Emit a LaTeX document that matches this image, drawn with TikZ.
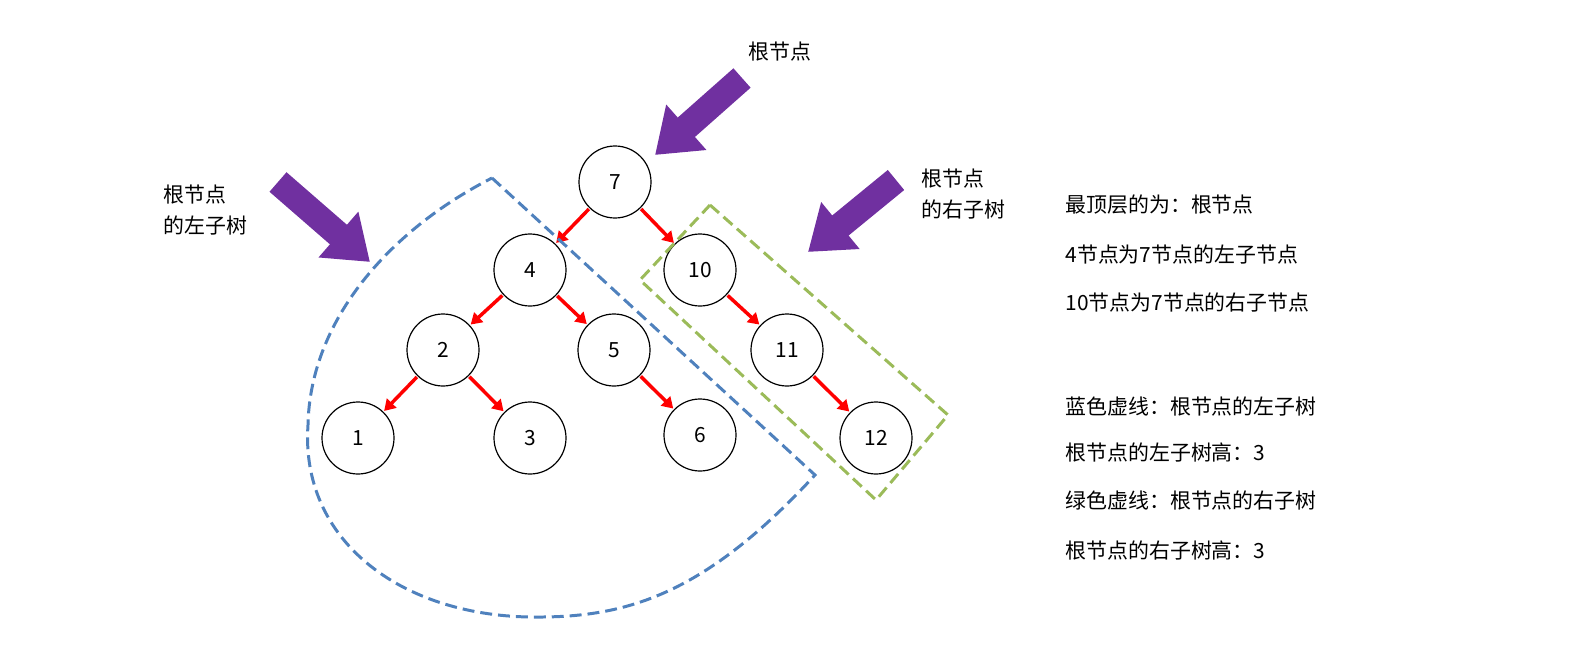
\documentclass[tikz,border=0pt]{standalone}
\usepackage{fontspec}
\setmainfont{Noto Sans CJK SC}
\usetikzlibrary{arrows.meta}
\begin{document}
\begin{tikzpicture}[x=1bp,y=-1bp,
  nd/.style={circle,draw,line width=1.2pt,minimum size=72bp,inner sep=0pt,font=\fontsize{21}{21}\selectfont},
  ed/.style={red,line width=3.5pt,-{Triangle[width=13pt,length=11pt]},shorten <=1pt,shorten >=1pt},
  big/.style={color={rgb,255:red,112;green,48;blue,160},line width=26pt,-{Triangle[width=58pt,length=42pt]}},
  lbl/.style={font=\fontsize{21}{31}\selectfont,align=left,anchor=west}]
\node[nd] (n7) at (615,182) {7};
\node[nd] (n4) at (530,270) {4};
\node[nd] (n10) at (700,270) {10};
\node[nd] (n2) at (443,350) {2};
\node[nd] (n5) at (614,350) {5};
\node[nd] (n11) at (787,350) {11};
\node[nd] (n1) at (358,438) {1};
\node[nd] (n3) at (530,438) {3};
\node[nd] (n6) at (700,435) {6};
\node[nd] (n12) at (876,438) {12};
\foreach \a/\b in {n7/n4,n7/n10,n4/n2,n4/n5,n10/n11,n2/n1,n2/n3,n5/n6,n11/n12}
  \draw[ed] (\a) -- (\b);
\coordinate (t1) at (742,78); \coordinate (h1) at (655,155);
\coordinate (t2) at (278,182); \coordinate (h2) at (370,262);
\coordinate (t3) at (896,180); \coordinate (h3) at (808,252);
\draw[big] (t1) -- (h1);
\draw[big] (t2) -- (h2);
\draw[big] (t3) -- (h3);
\coordinate (b1) at (492,178); \coordinate (b2) at (815,475);
\coordinate (b3) at (530,617); \coordinate (b4) at (308,425);
\draw[color={rgb,255:red,79;green,129;blue,189},line width=3pt,dash pattern=on 12pt off 6pt]
  (b1) -- (b2) .. controls (700,600) and (620,618) .. (b3)
  .. controls (400,615) and (300,540) .. (b4)
  .. controls (310,320) and (390,230) .. (b1);
\draw[color={rgb,255:red,155;green,187;blue,89},line width=3pt,dash pattern=on 12pt off 6pt]
  (710,205) -- (948,415) -- (876,500) -- (640,280) -- cycle;
\node[lbl] (r1) at (745,52) {根节点};
\node[lbl] (r2) at (160,210) {根节点\\的左子树};
\node[lbl] (r3) at (918,194) {根节点\\的右子树};
\node[lbl] (l1) at (1062,205) {最顶层的为：根节点};
\node[lbl] (l2) at (1062,255) {4节点为7节点的左子节点};
\node[lbl] (l3) at (1062,303) {10节点为7节点的右子节点};
\node[lbl] (l4) at (1062,407) {蓝色虚线：根节点的左子树};
\node[lbl] (l5) at (1062,453) {根节点的左子树高：3};
\node[lbl] (l6) at (1062,501) {绿色虚线：根节点的右子树};
\node[lbl] (l7) at (1062,551) {根节点的右子树高：3};
\pgfresetboundingbox
\useasboundingbox (0,0) rectangle (1595,670);
\end{tikzpicture}
\end{document}
